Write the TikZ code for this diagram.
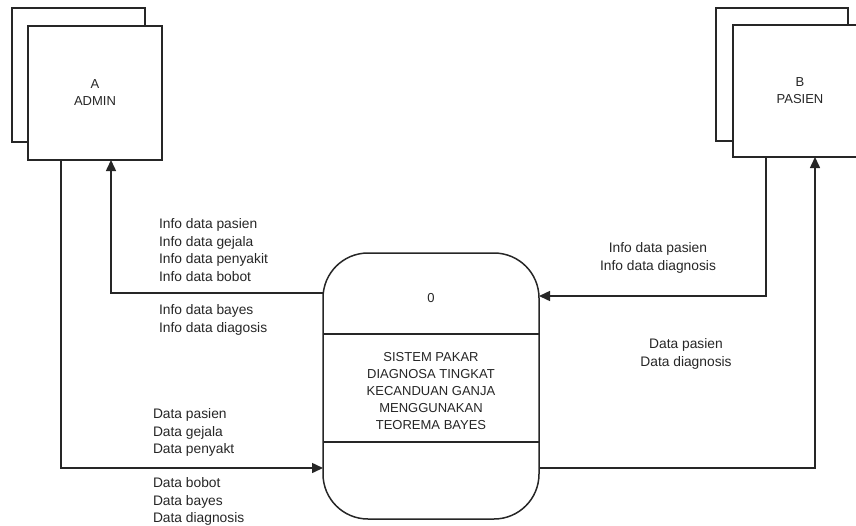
\documentclass[tikz,border=0pt]{standalone}
\usepackage{fontspec}
\setmainfont{Liberation Sans}
\usetikzlibrary{arrows.meta}
\begin{document}
\begin{tikzpicture}[x=1pt,y=-1pt,
  every node/.style={inner sep=0pt, outer sep=0pt, text=black!85},
  ent/.style={draw=black!85, line width=1.5pt, fill=white},
  proc/.style={draw=black!85, line width=1.5pt, fill=white, rounded corners=45pt, minimum width=216pt, minimum height=266pt},
  ln/.style={draw=black!85, line width=1.5pt},
  arr/.style={ln, -{Triangle[length=11pt,width=10pt]}},
  lbl/.style={font=\fontsize{13.8}{17.6}\selectfont},
  lblL/.style={lbl, align=left, anchor=north west},
  lblC/.style={lbl, align=center, anchor=north}]
\useasboundingbox (0,0) rectangle (856,525);
% external entities
\node[ent, minimum width=133pt, minimum height=134pt] (adminback) at (78.5,75) {};
\node[ent, minimum width=134pt, minimum height=134pt, align=center, font=\fontsize{13}{17}\selectfont] (admin) at (95,93) {A\\ADMIN};
\node[ent, minimum width=132pt, minimum height=133pt] (pasienback) at (782,74.5) {};
\node[ent, minimum width=134pt, minimum height=132pt, align=center, font=\fontsize{13}{17}\selectfont] (pasien) at (800,91) {B\\PASIEN};
% process
\node[proc] (proc) at (431,386) {};
\draw[ln] (proc.west |- 0,334) -- (proc.east |- 0,334);
\draw[ln] (proc.west |- 0,442) -- (proc.east |- 0,442);
\node[font=\fontsize{13}{17}\selectfont] (pnum) at (431,298) {0};
\node[align=center, font=\fontsize{13}{17}\selectfont] (ptext) at (431,391) {SISTEM PAKAR\\DIAGNOSA TINGKAT\\KECANDUAN GANJA\\MENGGUNAKAN\\TEOREMA BAYES};
% flows
\draw[arr] (61,0 |- admin.south) |- (proc.west |- 0,468);
\draw[arr] (proc.west |- 0,293) -| (111,0 |- admin.south);
\draw[arr] (766,0 |- pasien.south) |- (proc.east |- 0,296);
\draw[arr] (proc.east |- 0,468) -| (815,0 |- pasien.south);
% labels
\node[lblL] (l1) at (159,218.5) {Info data pasien\\Info data gejala\\Info data penyakit\\Info data bobot};
\node[lblL] (l2) at (159,304.5) {Info data bayes\\Info data diagosis};
\node[lblC] (l3) at (658,242.5) {Info data pasien\\Info data diagnosis};
\node[lblC] (l4) at (686,338.5) {Data pasien\\Data diagnosis};
\node[lblL] (l5) at (153,408.5) {Data pasien\\Data gejala\\Data penyakt};
\node[lblL] (l6) at (153,477.5) {Data bobot\\Data bayes\\Data diagnosis};
\end{tikzpicture}
\end{document}
